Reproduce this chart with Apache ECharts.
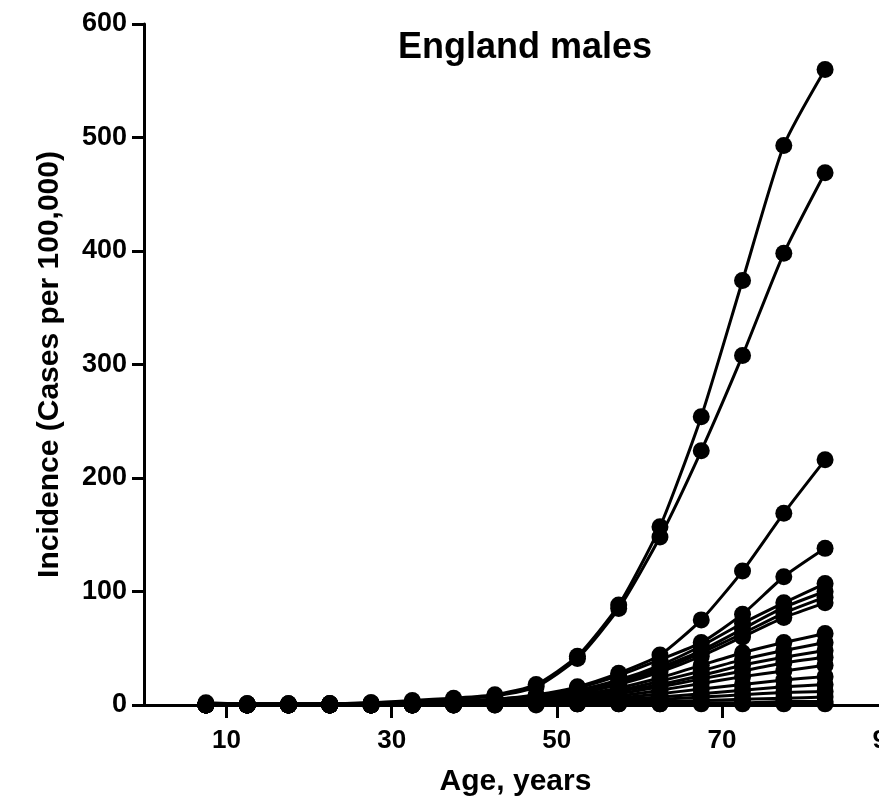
<!DOCTYPE html>
<html>
<head>
<meta charset="utf-8">
<script src="https://cdn.jsdelivr.net/npm/echarts@6/dist/echarts.min.js"></script>
<style>
html,body{margin:0;padding:0;background:#fff;}
#chart{width:879px;height:802px;}
</style>
</head>
<body>
<div id="chart"></div>
<script>
var titleText = 'England males';
var xName = 'Age, years';
var yName = 'Incidence (Cases per 100,000)';
var xTicks = [10, 30, 50, 70, 90];
var yTicks = [0, 100, 200, 300, 400, 500, 600];
var ages = [7.5, 12.5, 17.5, 22.5, 27.5, 32.5, 37.5, 42.5, 47.5, 52.5, 57.5, 62.5, 67.5, 72.5, 77.5, 82.5];

var s01 = [2, 1, 1, 1, 2, 4, 6, 9, 18, 43, 88, 157, 254, 374, 493, 560];
var s02 = [1, 1, 1, 1, 2, 3, 5, 8, 16, 41, 85, 148, 224, 308, 398, 469];
var s03 = [0, 0, 0, 1, 1, 2, 3, 5, 9, 16, 28, 44, 75, 118, 169, 216];
var s04 = [0, 0, 0, 1, 1, 2, 3, 5, 8, 15, 26, 40, 55, 80, 113, 138];
var s05 = [0, 0, 0, 0, 1, 1, 2, 4, 7, 13, 22, 35, 52, 72, 90, 107];
var s06 = [0, 0, 0, 0, 1, 1, 2, 4, 6, 12, 20, 33, 48, 67, 86, 100];
var s07 = [0, 0, 0, 0, 0, 1, 2, 3, 6, 11, 19, 31, 46, 63, 81, 95];
var s08 = [0, 0, 0, 0, 0, 1, 2, 3, 5, 10, 18, 29, 43, 60, 77, 90];
var s09 = [0, 0, 0, 0, 0, 1, 1, 3, 5, 9, 15, 24, 35, 46, 55, 63];
var s10 = [0, 0, 0, 0, 0, 1, 1, 2, 4, 8, 13, 21, 30, 40, 48, 55];
var s11 = [0, 0, 0, 0, 0, 0, 1, 2, 4, 7, 12, 18, 26, 35, 42, 48];
var s12 = [0, 0, 0, 0, 0, 0, 1, 2, 3, 6, 10, 16, 23, 30, 37, 42];
var s13 = [0, 0, 0, 0, 0, 0, 1, 1, 3, 5, 8, 13, 19, 25, 30, 35];
var s14 = [0, 0, 0, 0, 0, 0, 1, 1, 2, 4, 6, 10, 14, 18, 22, 25];
var s15 = [0, 0, 0, 0, 0, 0, 0, 1, 2, 3, 5, 7, 10, 13, 16, 18];
var s16 = [0, 0, 0, 0, 0, 0, 0, 1, 1, 2, 4, 5, 7, 9, 11, 12];
var s17 = [0, 0, 0, 0, 0, 0, 0, 0, 1, 1, 2, 3, 4, 5, 6, 7];
var s18 = [0, 0, 0, 0, 0, 0, 0, 0, 0, 1, 1, 1, 2, 2, 3, 3];
var s19 = [1, 1, 1, 1, 1, 1, 1, 1, 1, 1, 1, 1, 1, 1, 1, 1];

var allSeries = [s01, s02, s03, s04, s05, s06, s07, s08, s09, s10, s11, s12, s13, s14, s15, s16, s17, s18, s19];

var FONT = '"Liberation Sans", Arial, Helvetica, sans-serif';

var series = allSeries.map(function (vals, i) {
  return {
    type: 'line',
    name: 'S' + (i + 1),
    data: ages.map(function (a, j) { return [a, vals[j]]; }),
    symbol: 'circle',
    symbolSize: 17,
    smooth: 0.2,
    clip: false,
    lineStyle: { color: '#000', width: 3 },
    itemStyle: { color: '#000' },
    z: 3
  };
});

var chart = echarts.init(document.getElementById('chart'));
chart.setOption({
  animation: false,
  backgroundColor: '#fff',
  title: {
    text: titleText,
    left: 393,
    top: 25,
    textStyle: { fontFamily: FONT, fontWeight: 'bold', fontSize: 36, color: '#000' }
  },
  grid: { left: 144, right: -8, top: 24, bottom: 97, containLabel: false, outerBoundsMode: 'none' },
  xAxis: {
    type: 'value',
    min: 0,
    max: 90,
    name: xName,
    nameLocation: 'middle',
    nameGap: 62,
    nameTextStyle: { fontFamily: FONT, fontWeight: 'bold', fontSize: 30, color: '#000' },
    axisLine: { show: true, onZero: false, lineStyle: { color: '#000', width: 3 } },
    axisTick: { show: true, customValues: xTicks, length: 13, inside: false, lineStyle: { color: '#000', width: 3 } },
    axisLabel: { customValues: xTicks, margin: 23, fontFamily: FONT, fontWeight: 'bold', fontSize: 26, color: '#000' },
    splitLine: { show: false }
  },
  yAxis: {
    type: 'value',
    min: 0,
    max: 600,
    interval: 100,
    name: yName,
    nameLocation: 'middle',
    nameGap: 79,
    nameTextStyle: { fontFamily: FONT, fontWeight: 'bold', fontSize: 30, color: '#000' },
    axisLine: { show: true, lineStyle: { color: '#000', width: 3 } },
    axisTick: { show: true, length: 12, lineStyle: { color: '#000', width: 3 } },
    axisLabel: { margin: 17, fontFamily: FONT, fontWeight: 'bold', fontSize: 27, color: '#000' },
    splitLine: { show: false }
  },
  series: series
});
</script>
</body>
</html>
